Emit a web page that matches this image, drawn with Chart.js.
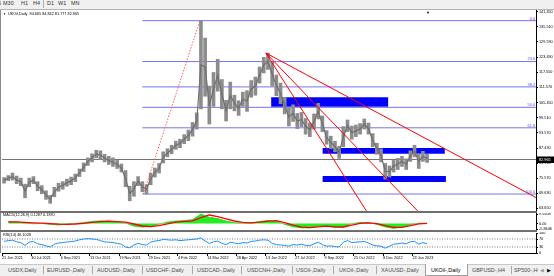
<!DOCTYPE html>
<html><head><meta charset="utf-8">
<script src="https://cdn.jsdelivr.net/npm/chart.js@4.4.0/dist/chart.umd.min.js"></script>
<style>
html,body{margin:0;padding:0;width:554px;height:276px;overflow:hidden;background:#fff;font-family:"Liberation Sans",Arial,sans-serif;}
#wrap{position:relative;width:554px;height:276px;overflow:hidden;}
.a{position:absolute;white-space:nowrap;}
canvas{position:absolute;left:0;}
.tb{font-size:5.5px;color:#333;top:0px;line-height:7px;}
.tab{font-size:5.4px;color:#4a4a4a;top:267px;line-height:7px;}
.sep{width:1px;height:8px;background:#a8a8a8;top:266px;}
.hdr{font-size:3.8px;color:#000;line-height:5px;}
</style></head>
<body><div id="wrap">
<div class="a" style="left:0;top:0;width:554px;height:9px;background:#f0f0f0;border-bottom:1px solid #b4b4b4;"></div>
<div class="a tb" style="left:-2px">5</div>
<div class="a tb" style="left:3px">M30</div>
<div class="a tb" style="left:21px">H1</div>
<div class="a tb" style="left:33px">H4</div>
<div class="a" style="left:43px;top:0;width:1px;height:8px;background:#b0b0b0"></div>
<div class="a tb" style="left:47px">D1</div>
<div class="a tb" style="left:58px">W1</div>
<div class="a tb" style="left:71px">MN</div>

<canvas id="cPrice" width="554" height="201" style="top:10px"></canvas>
<canvas id="cMacd" width="554" height="17" style="top:213px"></canvas>
<canvas id="cRsi" width="554" height="31" style="top:232px"></canvas>

<div class="a" style="left:0;top:10px;width:1px;height:243px;background:#8c8c8c"></div>
<div class="a" style="left:0;top:211px;width:537px;height:2px;background:#6e6e6e"></div>
<div class="a" style="left:0;top:230px;width:537px;height:2px;background:#6e6e6e"></div>

<div class="a hdr" style="left:3px;top:11.5px;font-size:3px">&#9660;</div>
<div class="a hdr" style="left:8px;top:11.5px">UKOil,Daily&nbsp; 84.665 84.842 81.777 82.965</div>
<div class="a hdr" style="left:426px;top:9.5px;font-size:4px">&#9660;</div>
<div class="a hdr" style="left:3px;top:212.5px">MACD(12,26,9) 0.1287 0.1870</div>
<div class="a hdr" style="left:3px;top:233px">RSI(14) 46.1028</div>

<div class="a" style="left:0;top:264px;width:554px;height:12px;background:#f0f0f0;border-top:1px solid #c8c8c8;"></div>
<div class="a tab" style="left:8px">USDX,Daily</div>
<div class="a sep" style="left:43px"></div>
<div class="a tab" style="left:47px">EURUSD-,Daily</div>
<div class="a sep" style="left:92px"></div>
<div class="a tab" style="left:97px">AUDUSD-,Daily</div>
<div class="a sep" style="left:142px"></div>
<div class="a tab" style="left:146px">USDCHF-,Daily</div>
<div class="a sep" style="left:192px"></div>
<div class="a tab" style="left:197px">USDCAD-,Daily</div>
<div class="a sep" style="left:241px"></div>
<div class="a tab" style="left:247px">USDCNH-,Daily</div>
<div class="a sep" style="left:292px"></div>
<div class="a tab" style="left:296px">USOil-,Daily</div>
<div class="a sep" style="left:333px"></div>
<div class="a tab" style="left:339px">UKOil-,Daily</div>
<div class="a sep" style="left:376px"></div>
<div class="a tab" style="left:381px">XAUUSD-,Daily</div>
<div class="a" style="left:425px;top:264px;width:41px;height:11px;background:#fff;border:1px solid #a0a0a0;border-top:none;"></div>
<div class="a tab" style="left:431px;color:#000">UKOil-,Daily</div>
<div class="a tab" style="left:472px">GBPUSD-,H4</div>
<div class="a sep" style="left:511px"></div>
<div class="a tab" style="left:514px;width:24px;overflow:hidden;">SP500-,H4</div>
<div class="a tab" style="left:540px;color:#999;font-family:'DejaVu Sans';font-size:5px">&#9664;</div>
<div class="a tab" style="left:547px;color:#000;font-family:'DejaVu Sans';font-size:5px">&#9654;</div>
</div>
<script>
// ---------- data ----------
const tickBars = [0,28,56,84,112,140,168,196,224,252,280,308,336,364,392];
const tickLabels = ['21 Jun 2021','30 Jul 2021','6 Sep 2021','13 Oct 2021','19 Nov 2021','29 Dec 2021','4 Feb 2022','14 Mar 2022','28 Apr 2022','13 Jun 2022','27 Jul 2022','9 Sep 2022','25 Oct 2022','8 Dec 2022','23 Jan 2023'];
const priceTicks = [141.45,135.51,129.59,123.49,117.55,111.57,105.45,99.51,93.57,87.43,81.51,75.57,69.63,63.65];
const priceLow = [73.6,74.6,74.8,73.4,72.6,67.8,72.2,73.4,70.6,69.4,
 67.2,65.6,68.2,70.4,71.2,72.4,73.0,74.2,76.2,78.2,
 80.6,82.0,83.6,83.0,82.0,81.0,80.2,79.4,78.0,72.2,
 66.6,68.4,72.6,70.2,69.3,73.0,76.0,77.6,81.6,84.0,
 85.2,87.0,87.6,89.2,90.4,92.2,95.0,103.0,108.0,97.0,
 104.0,110.0,103.0,98.2,103.0,102.2,100.4,104.0,102.0,107.6,
 108.4,113.2,117.2,118.6,112.0,108.2,105.0,101.0,96.2,98.0,
 95.2,96.0,93.0,92.0,95.0,99.0,94.0,89.0,87.2,86.0,
 83.4,88.0,94.0,91.0,92.0,93.0,95.0,93.0,88.0,85.0,
 82.0,75.2,76.0,78.0,79.0,80.2,79.0,82.2,84.0,79.4,
 82.2,81.8];
const priceHigh = [75.8,76.6,77.6,76.4,75.6,73.2,75.6,76.2,74.2,72.6,
 70.6,68.8,72.0,73.6,74.2,75.2,76.0,77.2,79.2,81.6,
 83.6,85.2,86.6,86.4,85.0,84.2,83.6,82.6,81.2,78.6,
 72.4,74.2,76.2,74.2,73.0,77.6,79.6,81.4,86.0,87.2,
 88.6,90.2,91.0,92.8,94.6,97.6,101.4,137.9,131.0,112.0,
 117.4,122.6,114.6,106.4,113.6,108.4,106.2,109.6,110.2,114.2,
 115.6,119.6,123.4,125.1,121.4,116.4,113.2,107.6,103.4,104.6,
 101.2,101.6,99.2,97.4,101.0,105.2,100.2,94.4,92.2,90.2,
 88.2,96.0,98.6,96.2,96.6,97.2,99.0,97.4,93.2,89.4,
 87.2,81.4,80.4,82.6,83.4,84.2,83.2,86.4,88.6,85.2,
 86.2,85.0];
const lastPrice = 82.965;
const fibLow = 69.3, fibHigh = 137.9, fibLowBar = 135, fibHighBar = 189;
const fibRatios = [0, 23.6, 38.2, 50.0, 61.8, 100.0];
const fanOrigin = {x: 252, y: 125.1};
const fanEnds = [{x: 348, y: 62.6}, {x: 397, y: 62.6}, {x: 510, y: 67.9}];
const zones = [
  {x1: 257, x2: 369, lo: 103.8, hi: 107.6},
  {x1: 306, x2: 423, lo: 85.2, hi: 87.5},
  {x1: 306, x2: 424, lo: 74.1, hi: 76.4}
];
const macdMain = [1.6,1.5,0.6,-0.2,0.1,-0.8,-1.4,-0.6,0.2,1.2,
 2.2,2.8,2.4,1.4,0.6,-2.6,-3.6,-2.8,-0.6,1.6,
 2.6,3.0,4.0,9.5,6.4,5.0,2.6,1.0,0.4,0.8,
 2.0,3.2,2.4,-0.8,-3.2,-4.4,-4.0,-2.4,-2.6,-3.8,
 -3.6,0.0,1.2,1.0,-0.8,-3.4,-4.8,-3.4,-1.0,0.6,
 0.13];
const macdSignal = [1.8,1.7,1.3,0.8,0.4,0.0,-0.6,-0.8,-0.4,0.3,
 1.2,2.0,2.4,2.0,1.4,-0.4,-2.4,-3.0,-2.0,-0.2,
 1.4,2.2,2.8,6.0,8.6,7.0,4.8,2.6,1.2,0.8,
 1.4,2.4,2.9,1.0,-1.6,-3.6,-4.0,-3.2,-2.6,-3.2,
 -3.4,-1.6,0.2,0.8,0.0,-2.0,-3.8,-3.8,-2.0,-0.2,
 0.19];
const macdTicks = [9.5508, 0, -5.8446];
const rsiValues = [58,62,64,56,52,38,54,58,46,42,
 36,30,44,50,52,55,57,60,66,70,
 72,70,68,62,56,54,52,48,44,30,
 26,40,48,42,40,54,60,62,68,66,
 64,66,62,64,66,68,70,76,60,48,
 56,60,48,42,54,50,46,52,50,58,
 60,64,66,64,48,42,40,38,34,42,
 40,44,38,36,46,54,42,34,36,32,
 30,54,62,52,54,56,58,50,40,36,
 34,24,34,44,46,50,46,56,58,44,
 52,46];
const rsiTicks = [100, 70, 30, 0];
const rsiLevels = [70, 30];

// ---------- helpers ----------
const X_MIN = 0, X_MAX = 510;
const FONT = '"Liberation Sans", Arial, sans-serif';
Chart.defaults.font.family = FONT;
const priceBars = priceLow.map((_, k) => k * 4 + 2);
const rsiBars = rsiValues.map((_, k) => k * 4 + 2);
const macdBars = macdMain.map((_, j) => j * 8 + 6);
const fibLevel = r => fibHigh - r / 100 * (fibHigh - fibLow);
const seg = (x1, y1, x2, y2) => [{x: x1, y: y1}, {x: x2, y: y2}];

function yAxis(min, max, ticks, fmt) {
  return {
    position: 'right', min, max,
    afterBuildTicks: s => { s.ticks = ticks.map(v => ({value: v})); },
    afterFit: s => { s.width = 18; s.paddingTop = 0; s.paddingBottom = 0; },
    ticks: {font: {size: 3.8}, color: '#000', padding: 1, autoSkip: false, callback: fmt},
    grid: {display: true, drawOnChartArea: false, drawTicks: true, tickLength: 2, color: '#000'},
    border: {display: true, color: '#000', width: 1}
  };
}
function xHidden() {
  return {type: 'linear', min: X_MIN, max: X_MAX, offset: false, display: false};
}
const baseOpts = {
  responsive: false, animation: false, devicePixelRatio: 1, events: [],
  plugins: {legend: {display: false}, tooltip: {enabled: false}},
  elements: {point: {radius: 0}, line: {tension: 0}}
};
function lineDs(data, color, extra) {
  return Object.assign({type: 'line', data, borderColor: color, borderWidth: 1, pointRadius: 0, fill: false}, extra || {});
}

// ---------- price panel ----------
const pds = [];
zones.forEach(z => {
  pds.push(lineDs(seg(z.x1, z.hi, z.x2, z.hi), 'rgba(0,0,0,0)', {order: 30, borderWidth: 0}));
  pds.push(lineDs(seg(z.x1, z.lo, z.x2, z.lo), 'rgba(0,0,0,0)', {order: 30, borderWidth: 0, fill: '-1', backgroundColor: '#0000ff'}));
});
fibRatios.forEach(r => {
  pds.push(lineDs(seg(fibLowBar - 1, fibLevel(r), X_MAX, fibLevel(r)), '#7474ec', {order: 25}));
});
pds.push(lineDs(seg(X_MIN, lastPrice, X_MAX, lastPrice), '#727272', {order: 22}));
pds.push({
  type: 'bar', data: priceBars.map((x, k) => ({x, y: [priceLow[k], priceHigh[k]]})),
  backgroundColor: '#8c8c8c', borderWidth: 0, barThickness: 3, order: 10
});
pds.push(lineDs(priceBars.map((x, k) => ({x, y: (priceLow[k] + priceHigh[k]) / 2})), '#6e6e6e', {order: 9, borderWidth: 1.2}));
pds.push(lineDs(seg(fibLowBar, fibLow, fibHighBar, fibHigh), '#ff5a5a', {order: 2, borderDash: [1.5, 1.5]}));
fanEnds.forEach(e => {
  pds.push(lineDs(seg(fanOrigin.x, fanOrigin.y, e.x, e.y), '#ff0000', {order: 1}));
});

const pricePlugin = {
  id: 'priceExtras',
  afterDatasetsDraw(chart) {
    const {ctx, chartArea, scales} = chart;
    ctx.save();
    ctx.font = '3.8px ' + FONT;
    ctx.fillStyle = '#5050e0';
    ctx.textAlign = 'right';
    ctx.textBaseline = 'bottom';
    fibRatios.forEach(r => {
      ctx.fillText(r.toFixed(1), chartArea.right - 1, scales.y.getPixelForValue(fibLevel(r)) - 0.3);
    });
    ctx.restore();
  },
  afterDraw(chart) {
    const {ctx, chartArea, scales} = chart;
    const py = scales.y.getPixelForValue(lastPrice);
    ctx.save();
    ctx.fillStyle = '#000';
    ctx.fillRect(chartArea.right + 1, py - 3, 18, 6.5);
    ctx.fillStyle = '#fff';
    ctx.font = '3.8px ' + FONT;
    ctx.textAlign = 'left';
    ctx.textBaseline = 'middle';
    ctx.fillText(lastPrice.toFixed(3), chartArea.right + 3, py + 0.3);
    ctx.restore();
  }
};

new Chart(document.getElementById('cPrice'), {
  type: 'bar',
  data: {datasets: pds},
  options: Object.assign({}, baseOpts, {
    layout: {padding: {left: 2, top: 0, bottom: 0, right: 0}},
    scales: {x: xHidden(), y: yAxis(62.58, 142.12, priceTicks, v => v.toFixed(3))}
  }),
  plugins: [pricePlugin]
});

// ---------- MACD panel ----------
new Chart(document.getElementById('cMacd'), {
  type: 'line',
  data: {datasets: [
    lineDs(macdBars.map((x, j) => ({x, y: macdMain[j]})), '#10c010', {fill: 'origin', backgroundColor: '#22ee22', order: 5, borderWidth: 0.6}),
    lineDs(macdBars.map((x, j) => ({x, y: macdSignal[j]})), '#ff0000', {order: 1, borderWidth: 1.3})
  ]},
  options: Object.assign({}, baseOpts, {
    layout: {padding: {left: 2, top: 0, bottom: 0, right: 0}},
    scales: {x: xHidden(), y: yAxis(-6.4, 10.6, macdTicks, v => v === 0 ? '0.00' : v.toFixed(4))}
  })
});

// ---------- RSI panel ----------
const rds = [];
rsiLevels.forEach(l => rds.push(lineDs(seg(X_MIN, l, X_MAX, l), '#7a7a7a', {borderDash: [1, 1.5], order: 5})));
rds.push(lineDs(rsiBars.map((x, k) => ({x, y: rsiValues[k]})), '#1e90ff', {order: 1}));
new Chart(document.getElementById('cRsi'), {
  type: 'line',
  data: {datasets: rds},
  options: Object.assign({}, baseOpts, {
    layout: {padding: {left: 2, top: 1, bottom: 0, right: 0}},
    scales: {
      x: {
        type: 'linear', min: X_MIN, max: X_MAX, offset: false, position: 'bottom',
        afterBuildTicks: s => { s.ticks = tickBars.map(v => ({value: v})); },
        afterFit: s => { s.height = 10; s.paddingLeft = 0; s.paddingRight = 0; },
        ticks: {autoSkip: false, maxRotation: 0, minRotation: 0, align: 'start', padding: 0,
                font: {size: 3.8}, color: '#000', callback: (v, i) => tickLabels[i]},
        grid: {display: true, drawOnChartArea: false, drawTicks: true, tickLength: 3, color: '#000'},
        border: {display: true, color: '#000', width: 1}
      },
      y: yAxis(0, 100, rsiTicks, v => String(v))
    }
  })
});
</script>
</body></html>
